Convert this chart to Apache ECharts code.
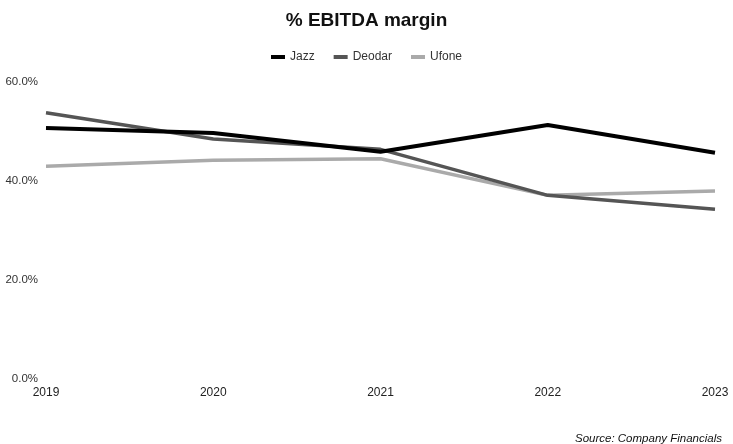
<!DOCTYPE html>
<html><head><meta charset="utf-8">
<script src="https://cdn.jsdelivr.net/npm/echarts@6/dist/echarts.min.js"></script>
<style>html,body{margin:0;padding:0;background:#fff}#c{width:733px;height:444px}</style>
</head><body><div id="c"></div>
<script>
const categories = ['2019','2020','2021','2022','2023'];
const jazz = [50.7, 49.7, 45.9, 51.3, 45.7];
const deodar = [53.8, 48.5, 46.4, 37.1, 34.3];
const ufone = [43.0, 44.2, 44.5, 37.1, 38.0];
const yTicks = [0, 20, 40, 60];

const chart = echarts.init(document.getElementById('c'));
const font = 'Liberation Sans, Arial, sans-serif';
chart.setOption({
  animation: false,
  title: [{text: '% EBITDA margin', left: 'center', top: 6,
    textStyle: {fontFamily: font, fontSize: 19, fontWeight: 'bold', color: '#111'}},
    {text: 'Source: Company Financials', right: 6, top: 428,
    textStyle: {fontFamily: font, fontSize: 11.5, fontStyle: 'italic', fontWeight: 'normal', color: '#111'}}],
  legend: {top: 46, left: 'center', itemWidth: 14, itemHeight: 4, itemGap: 19, icon: 'rect',
    textStyle: {fontFamily: font, fontSize: 12, color: '#333'},
    data: ['Jazz','Deodar','Ufone']},
  grid: {left: 46, right: 18, top: 82, bottom: 65, containLabel: false},
  xAxis: {type: 'category', data: categories, boundaryGap: false,
    axisLine: {show: false}, axisTick: {show: false},
    axisLabel: {fontFamily: font, fontSize: 12, color: '#222', margin: 8}},
  yAxis: {type: 'value', min: 0, max: 60, interval: 20,
    axisLine: {show: false}, axisTick: {show: false}, splitLine: {show: false},
    axisLabel: {fontFamily: font, fontSize: 11.5, color: '#333', margin: 8,
      formatter: v => yTicks.includes(v) ? v.toFixed(1) + '%' : ''}},
  series: [
    {name: 'Jazz', type: 'line', data: jazz, showSymbol: false, lineStyle: {color: '#000', width: 4}, itemStyle: {color: '#000'}, z: 3},
    {name: 'Deodar', type: 'line', data: deodar, showSymbol: false, lineStyle: {color: '#555', width: 3.5}, itemStyle: {color: '#555'}, z: 2},
    {name: 'Ufone', type: 'line', data: ufone, showSymbol: false, lineStyle: {color: '#aaa', width: 3.5}, itemStyle: {color: '#aaa'}, z: 1}
  ]
});
</script></body></html>
